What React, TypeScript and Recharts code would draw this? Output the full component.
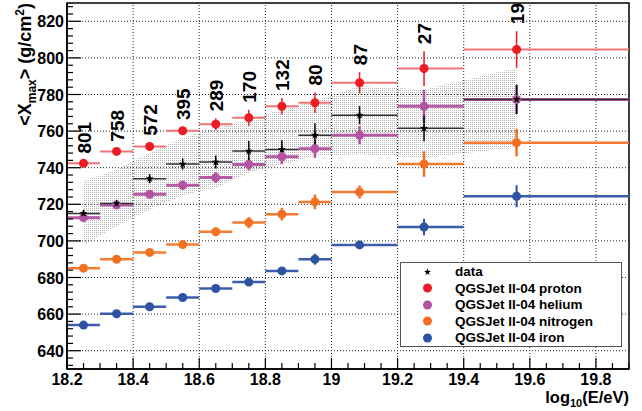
import React from "react";
import {
  ComposedChart,
  Scatter,
  Area,
  XAxis,
  YAxis,
  ErrorBar,
  ReferenceLine,
  ReferenceArea,
  Legend,
} from "recharts";

// energy bins (log10 E/eV) and mean energy of each bin
const binLow = [18.2, 18.3, 18.4, 18.5, 18.6, 18.7, 18.8, 18.9, 19.0, 19.2, 19.4];
const binHigh = [18.3, 18.4, 18.5, 18.6, 18.7, 18.8, 18.9, 19.0, 19.2, 19.4, 19.9];
const lgE = [18.25, 18.35, 18.45, 18.55, 18.65, 18.75, 18.85, 18.95, 19.085, 19.28, 19.56];
const nEvents = [801, 758, 572, 395, 289, 170, 132, 80, 87, 27, 19];

// measured <Xmax> with stat. error and syst. band
const dataXmax = [715, 720.4, 734, 742, 743.1, 749.1, 750, 757.8, 768.7, 761.5, 777.3];
const dataErr = [2, 2, 2.5, 3, 3.5, 5.5, 5, 6.5, 5, 7, 8];
const sysHigh = [732.8, 739, 748.2, 756.4, 761.8, 766.4, 771.8, 776.4, 784.6, 782.7, 794.6];
const sysLow = [698, 708, 717, 725, 729, 737.3, 741.8, 746.4, 747.3, 745.5, 751];

// QGSJet II-04 predictions
const proton = [742.4, 748.9, 751.6, 760.2, 763.8, 767.3, 773.6, 775.5, 786.4, 794.2, 804.6];
const protonErr = [1.5, 1.5, 2, 2, 3.2, 4.4, 4.5, 5.6, 5.8, 9.5, 10];
const helium = [712.7, 719.6, 725.5, 730.4, 734.6, 741.8, 746, 750.4, 757.8, 773.6, 777.3];
const heliumErr = [2, 2, 2, 2.5, 3, 3.2, 4, 5, 5, 9, 8];
const nitrogen = [685.1, 690, 693.7, 698, 705, 710, 714.6, 721.3, 726.7, 742, 753.7];
const nitrogenErr = [1.5, 1.5, 1.5, 1.5, 1.5, 3, 3.5, 4, 3.5, 7, 7.5];
const iron = [654, 660.2, 664, 669.1, 674, 677.5, 683.6, 690, 697.8, 707.6, 724.4];
const ironErr = [1.5, 1.5, 1.5, 1.5, 1.5, 1.5, 1.5, 3, 2, 4.5, 6];

const xLabels = ["18.2", "18.4", "18.6", "18.8", "19", "19.2", "19.4", "19.6", "19.8"];
const yLabels = [640, 660, 680, 700, 720, 740, 760, 780, 800, 820];

const xTicks = Array.from({ length: 35 }, (_, i) => Math.round((18.2 + i * 0.05) * 100) / 100);
const yTicks = Array.from({ length: 50 }, (_, i) => 632 + i * 4);

const rows = lgE.map((x, i) => ({
  x,
  xErr: [x - binLow[i], binHigh[i] - x],
  band: [sysLow[i], sysHigh[i]],
  data: dataXmax[i],
  dataErr: dataErr[i],
  proton: proton[i],
  protonErr: protonErr[i],
  helium: helium[i],
  heliumErr: heliumErr[i],
  nitrogen: nitrogen[i],
  nitrogenErr: nitrogenErr[i],
  iron: iron[i],
  ironErr: ironErr[i],
  labelAt: proton[i] + protonErr[i],
  n: nEvents[i],
}));

const FONT = "'Liberation Sans', Arial, Helvetica, sans-serif";
const RED = "#ec1c24";
const MAGENTA = "#b354a3";
const ORANGE = "#f36f21";
const BLUE = "#2e52a2";

const legendItems = [
  { label: "data", color: "#000", star: true },
  { label: "QGSJet II-04 proton", color: RED },
  { label: "QGSJet II-04 helium", color: MAGENTA },
  { label: "QGSJet II-04 nitrogen", color: ORANGE },
  { label: "QGSJet II-04 iron", color: BLUE },
];

function starPath(cx: number, cy: number, ro: number, ri: number) {
  let d = "";
  for (let k = 0; k < 10; k++) {
    const r = k % 2 === 0 ? ro : ri;
    const a = -Math.PI / 2 + (k * Math.PI) / 5;
    d += (k === 0 ? "M" : "L") + (cx + r * Math.cos(a)).toFixed(2) + "," + (cy + r * Math.sin(a)).toFixed(2);
  }
  return d + "Z";
}

const dot = (color: string) => (p: any) =>
  p.cx == null ? <g /> : <circle cx={p.cx} cy={p.cy} r={4.5} fill={color} />;

const star = (p: any) =>
  p.cx == null ? <g /> : <path d={starPath(p.cx, p.cy, 4.2, 1.7)} fill="#000" />;

const countLabel = (p: any) => {
  if (p.cx == null) return <g />;
  const x = p.cx + 7;
  const y = p.cy - 7;
  return (
    <text
      x={x}
      y={y}
      transform={`rotate(-90, ${x}, ${y})`}
      textAnchor="start"
      fontFamily={FONT}
      fontWeight="bold"
      fontSize={19}
      fill="#000"
    >
      {p.payload.n}
    </text>
  );
};

function XTick({ x, y, payload }: any) {
  const v = payload.value;
  const major = Math.abs(v * 5 - Math.round(v * 5)) < 1e-6;
  const idx = Math.round((v - 18.2) * 5);
  return (
    <g>
      <line x1={x} x2={x} y1={y} y2={y - (major ? 11 : 6)} stroke="#000" strokeWidth={1.2} />
      {major && (
        <text x={x} y={y + 16} textAnchor="middle" fontFamily={FONT} fontWeight="bold" fontSize={16} fill="#000">
          {xLabels[idx]}
        </text>
      )}
    </g>
  );
}

function YTick({ x, y, payload }: any) {
  const v = payload.value;
  const major = yLabels.includes(v);
  return (
    <g>
      <line x1={x} x2={x + (major ? 14 : 6)} y1={y} y2={y} stroke="#000" strokeWidth={1.2} />
      {major && (
        <text x={x - 3} y={y + 6} textAnchor="end" fontFamily={FONT} fontWeight="bold" fontSize={16} fill="#000">
          {v}
        </text>
      )}
    </g>
  );
}

function LegendBox() {
  return (
    <div
      style={{
        boxSizing: "border-box",
        width: 222,
        height: 85,
        border: "1.5px solid #555",
        background: "#fff",
        paddingTop: 0.5,
        fontFamily: FONT,
        fontWeight: "bold",
        fontSize: 13.5,
        color: "#000",
      }}
    >
      {legendItems.map((it) => (
        <div key={it.label} style={{ height: 16.5, display: "flex", alignItems: "center" }}>
          <svg width={54} height={16} style={{ flexShrink: 0 }}>
            {it.star ? (
              <path d={starPath(26.5, 8, 3.6, 1.5)} fill="#000" />
            ) : (
              <circle cx={26.5} cy={8} r={4.5} fill={it.color} />
            )}
          </svg>
          <span>{it.label}</span>
        </div>
      ))}
    </div>
  );
}

const errY = (key: string, color: string, w: number) => (
  <ErrorBar dataKey={key} direction="y" width={0} stroke={color} strokeWidth={w} isAnimationActive={false} />
);
const errX = (color: string, w: number) => (
  <ErrorBar dataKey="xErr" direction="x" width={0} stroke={color} strokeWidth={w} isAnimationActive={false} />
);

export default function App() {
  return (
    <div style={{ position: "absolute", left: 0, top: 0, width: 642, height: 411, background: "#fff" }}>
      <ComposedChart width={642} height={411} data={rows} margin={{ top: 3, right: 13, bottom: 0, left: 0 }}>
        <defs>
          <pattern id="sysDots" x={0} y={0} width={2} height={2} patternUnits="userSpaceOnUse">
            <rect x={0} y={0} width={1} height={1} fill="#b4b4b4" />
          </pattern>
        </defs>
        <XAxis
          type="number"
          dataKey="x"
          domain={[18.2, 19.9]}
          allowDataOverflow
          ticks={xTicks}
          interval={0}
          tickSize={0}
          tickMargin={0}
          tickLine={false}
          tick={<XTick />}
          axisLine={{ stroke: "#000", strokeWidth: 1.5 }}
          height={42}
          label={{
            content: () => (
              <text x={629} y={403} textAnchor="end" fontFamily={FONT} fontWeight="bold" fontSize={16.5} fill="#000">
                log
                <tspan fontSize={11} dy={4}>10</tspan>
                <tspan dy={-4}>(E/eV)</tspan>
              </text>
            ),
          }}
        />
        <YAxis
          type="number"
          domain={[630, 830]}
          allowDataOverflow
          ticks={yTicks}
          interval={0}
          tickSize={0}
          tickMargin={0}
          tickLine={false}
          tick={<YTick />}
          axisLine={{ stroke: "#000", strokeWidth: 1.5 }}
          width={67}
          label={{
            content: () => (
              <text
                x={31}
                y={3}
                transform="rotate(-90, 31, 3)"
                textAnchor="end"
                fontFamily={FONT}
                fontWeight="bold"
                fontSize={18}
                fill="#000"
              >
                {"<X"}
                <tspan fontSize={12} dy={5}>max</tspan>
                <tspan dy={-5}>{"> (g/cm"}</tspan>
                <tspan fontSize={12} dy={-7}>2</tspan>
                <tspan dy={7}>)</tspan>
              </text>
            ),
          }}
        />
        <Area
          dataKey="band"
          type="linear"
          stroke="none"
          fill="url(#sysDots)"
          fillOpacity={1}
          isAnimationActive={false}
          legendType="none"
        />
        {xLabels.slice(1).map((l) => (
          <ReferenceLine key={"gx" + l} x={Number(l)} stroke="#222" strokeDasharray="1 2" strokeWidth={1} />
        ))}
        {yLabels.map((v) => (
          <ReferenceLine key={"gy" + v} y={v} stroke="#222" strokeDasharray="1 2" strokeWidth={1} />
        ))}
        <Scatter dataKey="iron" shape={dot(BLUE)} isAnimationActive={false}>
          {errX("#3b5eab", 2.5)}
          {errY("ironErr", BLUE, 2)}
        </Scatter>
        <Scatter dataKey="nitrogen" shape={dot(ORANGE)} isAnimationActive={false}>
          {errX("#f47b30", 2.5)}
          {errY("nitrogenErr", ORANGE, 2.5)}
        </Scatter>
        <Scatter dataKey="helium" shape={dot(MAGENTA)} isAnimationActive={false}>
          {errX("#b65aa7", 3)}
          {errY("heliumErr", MAGENTA, 2.5)}
        </Scatter>
        <Scatter dataKey="proton" shape={dot(RED)} isAnimationActive={false}>
          {errX("#f0747a", 2)}
          {errY("protonErr", RED, 1.5)}
        </Scatter>
        <Scatter dataKey="data" shape={star} isAnimationActive={false}>
          {errX("#333", 1.5)}
          {errY("dataErr", "#000", 1.5)}
        </Scatter>
        <Scatter dataKey="labelAt" shape={countLabel} isAnimationActive={false} legendType="none" />
        <ReferenceArea x1={18.2} x2={19.9} y1={630} y2={830} fill="none" stroke="#000" strokeWidth={1.5} />
        <Legend
          layout="horizontal"
          verticalAlign="middle"
          align="center"
          wrapperStyle={{ left: 400, top: 262, width: 222 }}
          content={() => <LegendBox />}
        />
      </ComposedChart>
    </div>
  );
}
